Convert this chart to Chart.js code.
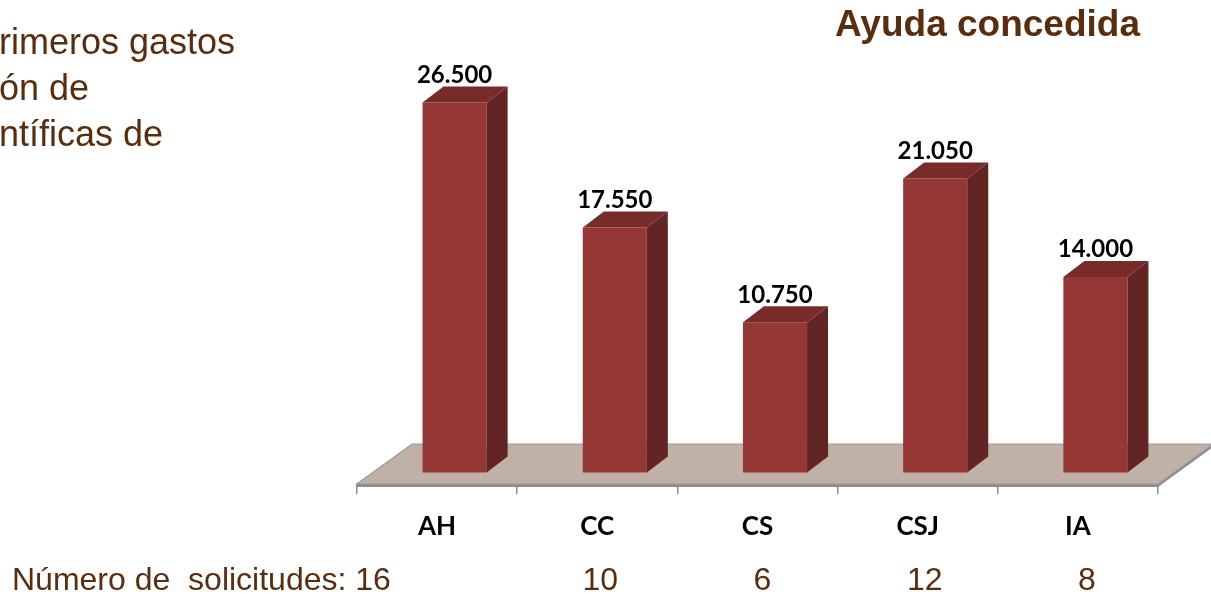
<!DOCTYPE html>
<html>
<head>
<meta charset="utf-8">
<script src="https://cdn.jsdelivr.net/npm/chart.js@4.4.0/dist/chart.umd.min.js"></script>
<style>
  html, body { margin: 0; padding: 0; background: #fff; overflow: hidden; }
  #wrap { position: relative; width: 1211px; height: 594px; overflow: hidden; }
  #c { position: absolute; left: 0; top: 0; }
  .txt { position: absolute; font-family: "Liberation Sans", Arial, sans-serif; color: #5a2d0e; white-space: pre; }
  #intro { left: -1px; top: 19px; font-size: 36px; line-height: 46px; }
  #titulo { left: 835px; top: 5px; font-size: 37px; line-height: 37px; font-weight: bold; }
  .sol { top: 563px; font-size: 32px; line-height: 32px; }
</style>
</head>
<body>
<div id="wrap">
  <canvas id="c" width="1211" height="594"></canvas>
  <div class="txt" id="intro">rimeros gastos
ón de
ntíficas de</div>
  <div class="txt" id="titulo">Ayuda concedida</div>
</div>
<script>
// Ayuda concedida por área
const categorias = ['AH', 'CC', 'CS', 'CSJ', 'IA'];
const ayuda = [26500, 17550, 10750, 21050, 14000];
const solicitudes = [16, 10, 6, 12, 8];
const ejeMax = 30000;

// Perspective offsets for the pseudo-3D look
const FRENTE = { x: 17.5, y: -11.5 };  // bars stand back from the floor's front edge
const FONDO_BARRA = { x: 21, y: -16 }; // depth of each column
const FONDO_SUELO = { x: 55, y: -40 }; // depth of the floor plate

const COLOR_FRENTE = '#953735';
const COLOR_LADO = '#632523';
const COLOR_TAPA = '#772c2a';

function formatoMiles(v) {
  const miles = Math.floor(v / 1000);
  const resto = String(v % 1000).padStart(3, '0');
  return miles > 0 ? miles + '.' + resto : String(v);
}

const columnas3d = {
  id: 'columnas3d',
  beforeDatasetsDraw(chart) {
    const { ctx, chartArea: a } = chart;
    const x0 = a.left, x1 = a.right, y = a.bottom;
    ctx.save();
    // floor thickness
    ctx.fillStyle = '#8d8d8d';
    ctx.beginPath();
    ctx.moveTo(x0, y);
    ctx.lineTo(x1, y);
    ctx.lineTo(x1 + FONDO_SUELO.x, y + FONDO_SUELO.y);
    ctx.lineTo(x1 + FONDO_SUELO.x, y + FONDO_SUELO.y + 3);
    ctx.lineTo(x1, y + 3);
    ctx.lineTo(x0, y + 3);
    ctx.closePath();
    ctx.fill();
    // floor surface
    ctx.fillStyle = '#bfb1a5';
    ctx.strokeStyle = '#9b9b9b';
    ctx.lineWidth = 1.2;
    ctx.beginPath();
    ctx.moveTo(x0, y);
    ctx.lineTo(x1, y);
    ctx.lineTo(x1 + FONDO_SUELO.x, y + FONDO_SUELO.y);
    ctx.lineTo(x0 + FONDO_SUELO.x, y + FONDO_SUELO.y);
    ctx.closePath();
    ctx.fill();
    ctx.stroke();
    ctx.restore();
    // front faces are drawn by the library, shifted back onto the floor
    ctx.save();
    ctx.translate(FRENTE.x, FRENTE.y);
  },
  afterDatasetsDraw(chart) {
    const { ctx } = chart;
    const meta = chart.getDatasetMeta(0);
    meta.data.forEach((bar, i) => {
      const p = bar.getProps(['x', 'y', 'base', 'width'], true);
      const l = p.x - p.width / 2, r = p.x + p.width / 2;
      // side face
      ctx.fillStyle = COLOR_LADO;
      ctx.beginPath();
      ctx.moveTo(r, p.y);
      ctx.lineTo(r + FONDO_BARRA.x, p.y + FONDO_BARRA.y);
      ctx.lineTo(r + FONDO_BARRA.x, p.base + FONDO_BARRA.y);
      ctx.lineTo(r, p.base);
      ctx.closePath();
      ctx.fill();
      // top face
      ctx.fillStyle = COLOR_TAPA;
      ctx.beginPath();
      ctx.moveTo(l, p.y);
      ctx.lineTo(l + FONDO_BARRA.x, p.y + FONDO_BARRA.y);
      ctx.lineTo(r + FONDO_BARRA.x, p.y + FONDO_BARRA.y);
      ctx.lineTo(r, p.y);
      ctx.closePath();
      ctx.fill();
      // value label
      ctx.fillStyle = '#000';
      ctx.font = 'bold 24px Lato, "Open Sans", sans-serif';
      ctx.textAlign = 'center';
      ctx.textBaseline = 'alphabetic';
      ctx.fillText(formatoMiles(ayuda[i]), p.x, p.y + FONDO_BARRA.y - 3.5);
    });
    ctx.restore();
  }
};

const chart = new Chart(document.getElementById('c'), {
  type: 'bar',
  data: {
    labels: categorias,
    datasets: [{
      data: ayuda,
      backgroundColor: COLOR_FRENTE,
      borderWidth: 0,
      barPercentage: 0.5,
      categoryPercentage: 0.8,
      clip: false
    }]
  },
  options: {
    responsive: false,
    animation: false,
    events: [],
    layout: { padding: { left: 357, right: 53, top: 65, bottom: 0 } },
    plugins: { legend: { display: false }, tooltip: { enabled: false }, title: { display: false } },
    scales: {
      x: {
        grid: { display: true, drawOnChartArea: false, drawTicks: true, tickLength: 10, color: '#8d8d8d', lineWidth: 1.5, offset: true },
        border: { display: true, color: '#8d8d8d', width: 1.5 },
        ticks: { color: '#000', font: { family: 'Lato, "Open Sans", sans-serif', size: 26, weight: 'bold' }, padding: 17 },
        afterFit(scale) { scale.height = 110; }
      },
      y: { display: false, min: 0, max: ejeMax }
    }
  },
  plugins: [columnas3d]
});

// Número de solicitudes row
(function () {
  const wrap = document.getElementById('wrap');
  const xs = chart.scales.x;
  const primero = document.createElement('div');
  primero.className = 'txt sol';
  primero.style.left = '12px';
  primero.textContent = 'Número de  solicitudes: ' + solicitudes[0];
  wrap.appendChild(primero);
  for (let i = 1; i < solicitudes.length; i++) {
    const s = document.createElement('div');
    s.className = 'txt sol';
    s.style.left = (xs.getPixelForValue(i) + 1 + 2 * i) + 'px';
    s.style.transform = 'translateX(-50%)';
    s.textContent = String(solicitudes[i]);
    wrap.appendChild(s);
  }
})();
</script>
</body>
</html>
